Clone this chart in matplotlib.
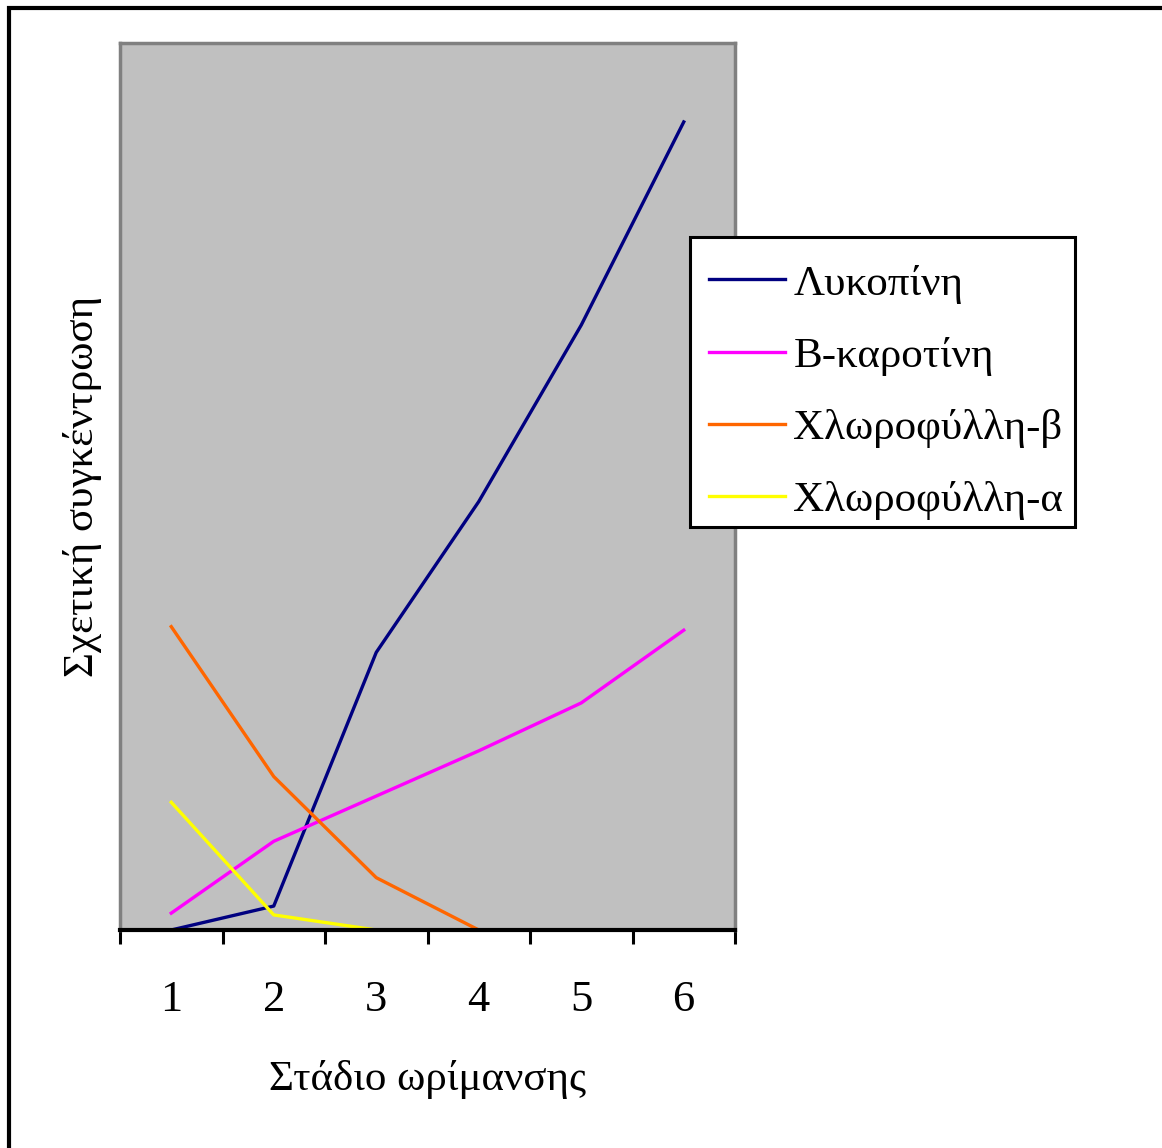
import matplotlib
matplotlib.use("Agg")
import matplotlib.pyplot as plt
from matplotlib.patches import Rectangle

plt.rcParams["font.family"] = ["Liberation Serif", "DejaVu Serif"]

stages = [1, 2, 3, 4, 5, 6]
stage_labels = ["1", "2", "3", "4", "5", "6"]
lycopene = [0.0, 2.7, 31.3, 48.3, 68.2, 91.1]
b_carotene = [1.9, 10.0, 15.1, 20.2, 25.6, 33.8]
chlorophyll_b = [34.2, 17.3, 5.9, 0.0, 0.0, 0.0]
chlorophyll_a = [14.4, 1.7, 0.0, 0.0, 0.0, 0.0]

series = [
    ("Λυκοπίνη", lycopene, "#000080"),
    ("Β-καροτίνη", b_carotene, "#FF00FF"),
    ("Χλωροφύλλη-β", chlorophyll_b, "#FF6600"),
    ("Χλωροφύλλη-α", chlorophyll_a, "#FFFF00"),
]

W, H = 1162, 1148
fig = plt.figure(figsize=(W / 100, H / 100), dpi=100)

# outer chart frame (only top and left edges fall inside the image)
fig.patches.append(Rectangle((9 / W, -0.1), 1.2, 1 - 8 / H + 0.1, transform=fig.transFigure,
                             fill=False, edgecolor="black", linewidth=3))

ax = fig.add_axes([120 / W, 1 - 930 / H, 615 / W, 887 / H])
ax.set_facecolor("#C0C0C0")

for name, values, color in series:
    ax.plot(stages, values, color=color, linewidth=2.4, label=name, clip_on=False)

ax.set_xlim(0.5, 6.5)
ax.set_ylim(0, 100)

for side in ("left", "top", "right"):
    ax.spines[side].set_color("#808080")
    ax.spines[side].set_linewidth(2.5)
ax.spines["bottom"].set_color("black")
ax.spines["bottom"].set_linewidth(3)

ax.set_yticks([])
ax.set_xticks([s - 0.5 for s in stages] + [6.5])
ax.set_xticklabels([])
ax.tick_params(axis="x", which="major", direction="out", length=10, width=2.2, color="black")
ax.set_xticks(stages, minor=True)
ax.set_xticklabels(stage_labels, minor=True)
ax.tick_params(axis="x", which="minor", length=0, pad=36, labelsize=32)

ax.set_xlabel("Στάδιο ωρίμανσης", fontsize=31, labelpad=29)
ax.set_ylabel("Σχετική συγκέντρωση", fontsize=31, labelpad=13)

# legend box drawn separately so its edges sit exactly where wanted
fig.patches.append(Rectangle((690 / W, 1 - 527 / H), 385 / W, 290 / H,
                             transform=fig.transFigure, facecolor="white",
                             edgecolor="black", linewidth=2.2, zorder=3))
leg = fig.legend(loc="upper left", bbox_to_anchor=(690 / W, 1 - 245 / H),
                 fontsize=31, frameon=False,
                 handlelength=1.75, handletextpad=0.2, labelspacing=0.765,
                 borderpad=0.45, borderaxespad=0)
leg.set_zorder(4)
for line in leg.get_lines():
    line.set_linewidth(2.4)

fig.savefig("out.png", dpi=100)
